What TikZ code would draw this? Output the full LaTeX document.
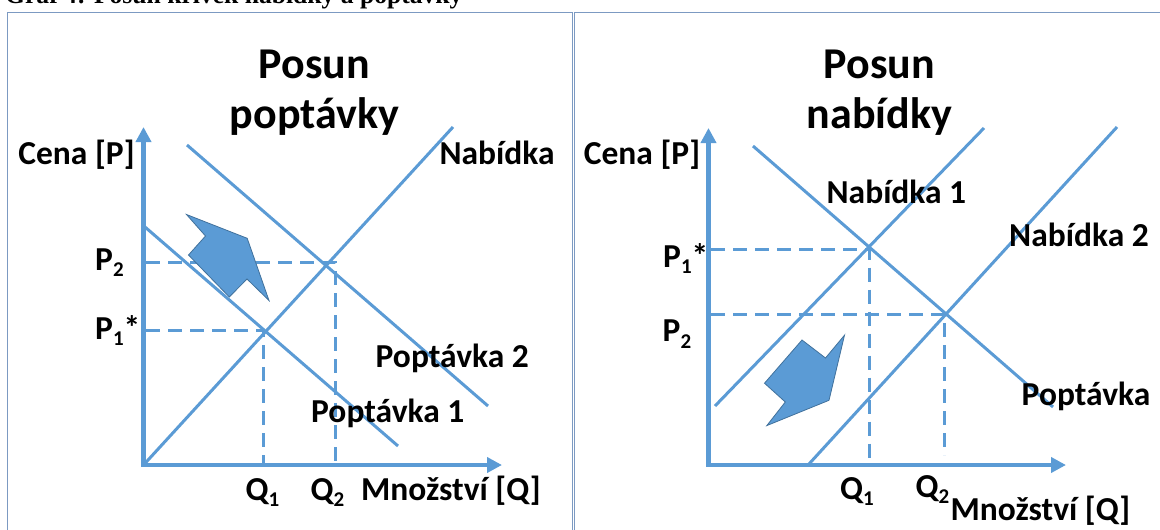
\documentclass[tikz,border=0pt]{standalone}
\usepackage{fontspec}
\setmainfont{Carlito}
\newfontfamily\headfont{Liberation Serif}
\usetikzlibrary{arrows.meta}
\definecolor{lineblue}{HTML}{5B9BD5}
\definecolor{arrowedge}{HTML}{41719C}
\definecolor{framecol}{HTML}{7C9AC2}
\newcommand\lsub[1]{\raisebox{-0.2em}{\fontsize{21}{21}\selectfont #1}}
\tikzset{
  lbl/.style={font=\fontsize{33.5}{40}\selectfont\bfseries, inner sep=0pt, text=black},
  ttl/.style={font=\fontsize{44}{53}\selectfont\bfseries, inner sep=0pt, anchor=base, text=black},
  curveln/.style={draw=lineblue, line width=3pt},
  dashln/.style={draw=lineblue, line width=3pt, dash pattern=on 14pt off 8pt},
  axisln/.style={draw=lineblue, line width=4.5pt, line join=miter,
     {Triangle[length=15pt,width=15pt]}-{Triangle[length=15pt,width=15pt]}},
  shiftarrow/.style={fill=lineblue, draw=arrowedge, line width=0.8pt, line join=miter},
  frame/.style={draw=framecol, line width=1.6pt}
}
\begin{document}
\begin{tikzpicture}[x=1pt,y=-1pt]
\useasboundingbox (0,0) rectangle (1160,530);
\clip (0,0) rectangle (1160,530);
% header (cut off at top, as in the reference)
\node[anchor=base west, inner sep=0pt, font=\headfont\bfseries\fontsize{25.6}{30}\selectfont] (head) at (5,3.5) {Graf 4: Posun křivek nabídky a poptávky};
% frames
\draw[frame] (7.5,12.5) rectangle (572.5,560);
\draw[frame] (574.5,12.5) rectangle (1175,560);

% ================= LEFT PANEL =================
\node[ttl] (t1a) at (314.5,78) {Posun};
\node[ttl] (t1b) at (314.5,128.5) {poptávky};

\coordinate (o1) at (143.5,465);
\coordinate (y1) at (143.5,127);
\coordinate (x1) at (502,465);

\coordinate (s1a) at (143.5,465);
\coordinate (s1b) at (453,127);
\coordinate (d2a) at (187,145);
\coordinate (d2b) at (488,406);
\coordinate (d1a) at (145,227);
\coordinate (d1b) at (398,446);

\coordinate (p2l) at (146,262);
\coordinate (p2c) at (335,262);
\coordinate (q2b) at (335,465);
\coordinate (p1l) at (146,330);
\coordinate (p1c) at (263,330);
\coordinate (q1b) at (263,465);

\draw[curveln] (s1a) -- (s1b);
\draw[curveln] (d2a) -- (d2b);
\draw[curveln] (d1a) -- (d1b);
\draw[dashln] (p2l) -- (p2c) -- (q2b);
\draw[dashln] (p1l) -- (p1c) -- (q1b);
\draw[axisln] (y1) -- (o1) -- (x1);

\draw[shiftarrow] (186.5,214.5) -- (205.5,236) -- (188.5,255) -- (229.3,297) -- (247,279) -- (269,300.5) -- (247.2,238.3) -- cycle;

\node[lbl, anchor=base] (cena1) at (76.5,164) {Cena [P]};
\node[lbl, anchor=base] (nab1) at (497,164) {Nabídka};
\node[lbl, anchor=base west] (pop2) at (375.5,367) {Poptávka 2};
\node[lbl, anchor=base west] (pop1) at (311,422.5) {Poptávka 1};
\node[lbl, anchor=base west] (lp2) at (95,270) {P\lsub{2}};
\node[lbl, anchor=base west] (lp1) at (95,339) {P\lsub{1}*};
\node[lbl, anchor=base west] (lq1) at (245.5,500) {Q\lsub{1}};
\node[lbl, anchor=base west] (lq2) at (310.5,500) {Q\lsub{2}};
\node[lbl, anchor=base west] (mn1) at (361,500) {Množství [Q]};

% ================= RIGHT PANEL =================
\node[ttl] (t2a) at (879.3,78) {Posun};
\node[ttl] (t2b) at (879.3,128.5) {nabídky};

\coordinate (o2) at (708.5,465);
\coordinate (y2) at (708.5,128);
\coordinate (x2) at (1066,465);

\coordinate (dda) at (753,146);
\coordinate (ddb) at (1053,407);
\coordinate (n1a) at (715,406);
\coordinate (n1b) at (984,128);
\coordinate (n2a) at (809,464);
\coordinate (n2b) at (1117,127);

\coordinate (r1l) at (711,249.5);
\coordinate (r1c) at (869,249.5);
\coordinate (r1b) at (869,458);
\coordinate (r2l) at (711,314);
\coordinate (r2c) at (944,314);
\coordinate (r2b) at (944,455);

\draw[curveln] (dda) -- (ddb);
\draw[curveln] (n1a) -- (n1b);
\draw[curveln] (n2a) -- (n2b);
\draw[dashln] (r1l) -- (r1c) -- (r1b);
\draw[dashln] (r2l) -- (r2c) -- (r2b);
\draw[axisln] (y2) -- (o2) -- (x2);

\draw[shiftarrow] (802,340) -- (825.5,358) -- (844.5,335.2) -- (829,400.3) -- (766.8,425.6) -- (785.3,402) -- (764.5,383.2) -- cycle;

\node[lbl, anchor=base] (cena2) at (642,164) {Cena [P]};
\node[lbl, anchor=base] (nabA) at (896.4,203) {Nabídka 1};
\node[lbl, anchor=base] (nabB) at (1079,246) {Nabídka 2};
\node[lbl, anchor=base] (pop3) at (1086,405.7) {Poptávka};
\node[lbl, anchor=base west] (rp1) at (663,267) {P\lsub{1}*};
\node[lbl, anchor=base west] (rp2) at (662.5,341.5) {P\lsub{2}};
\node[lbl, anchor=base west] (rq1) at (840,499) {Q\lsub{1}};
\node[lbl, anchor=base west] (rq2) at (915.5,497) {Q\lsub{2}};
\node[lbl, anchor=base west] (mn2) at (950.5,520) {Množství [Q]};
\end{tikzpicture}
\end{document}
